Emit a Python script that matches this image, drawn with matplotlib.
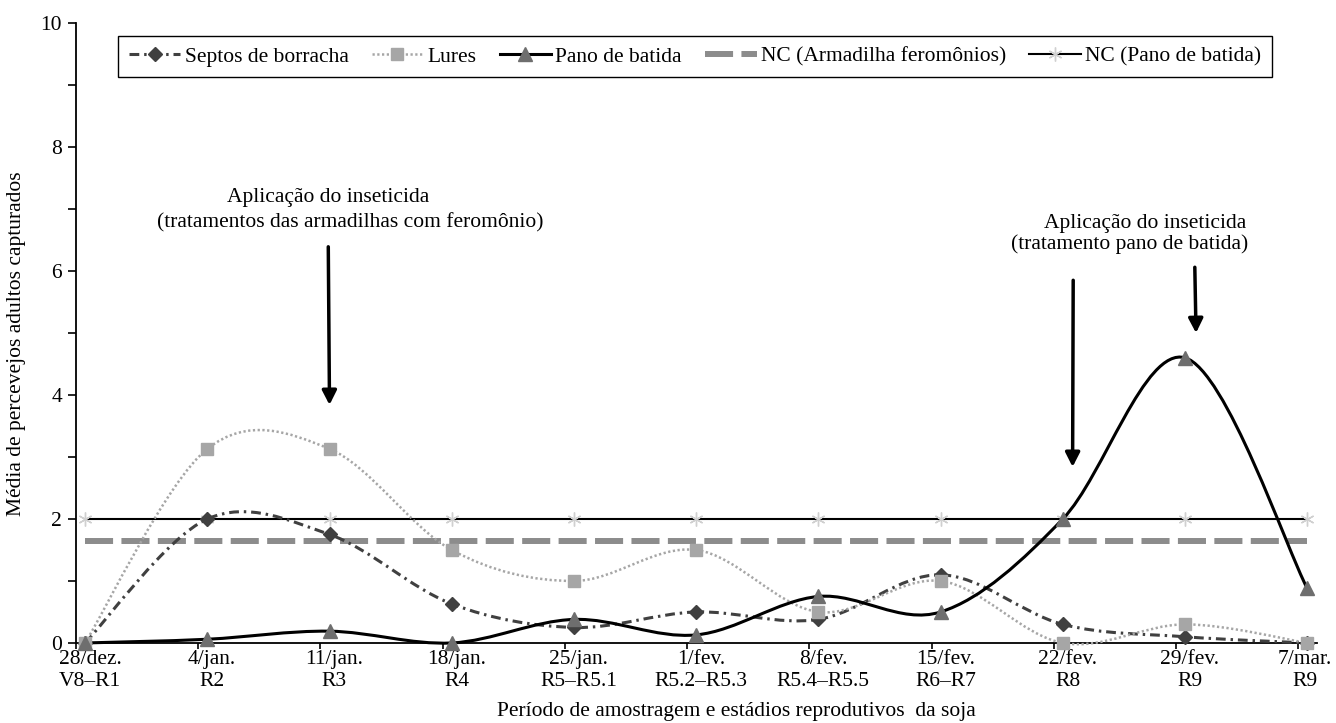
import numpy as np
import matplotlib
matplotlib.use("Agg")
import matplotlib.pyplot as plt
from matplotlib.path import Path
from matplotlib.patches import PathPatch
from matplotlib.lines import Line2D

plt.rcParams["font.family"] = "Liberation Serif"
plt.rcParams["font.size"] = 15.5

# sampling dates and soybean stages
dates = ["28/dez.", "4/jan.", "11/jan.", "18/jan.", "25/jan.", "1/fev.",
         "8/fev.", "15/fev.", "22/fev.", "29/fev.", "7/mar."]
stages = ["V8–R1", "R2", "R3", "R4", "R5–R5.1", "R5.2–R5.3",
          "R5.4–R5.5", "R6–R7", "R8", "R9", "R9"]

# mean number of adult stink bugs captured
septos = [0, 2.0, 1.75, 0.63, 0.25, 0.5, 0.38, 1.1, 0.3, 0.1, 0]
lures = [0, 3.13, 3.13, 1.5, 1.0, 1.5, 0.5, 1.0, 0, 0.3, 0]
pano = [0, 0.06, 0.19, 0, 0.38, 0.13, 0.75, 0.5, 2.0, 4.6, 0.88]
nc_armadilha = 1.65
nc_pano = 2.0


def smooth_path(x, y):
    # Excel-like smoothed line as cubic bezier segments through the points
    px = np.concatenate([[x[0]], x, [x[-1]]])
    py = np.concatenate([[y[0]], y, [y[-1]]])
    verts = [(x[0], y[0])]
    codes = [Path.MOVETO]
    for i in range(len(x) - 1):
        c1 = (px[i + 1] + (px[i + 2] - px[i]) / 6, py[i + 1] + (py[i + 2] - py[i]) / 6)
        c2 = (px[i + 2] - (px[i + 3] - px[i + 1]) / 6, py[i + 2] - (py[i + 3] - py[i + 1]) / 6)
        verts += [c1, c2, (x[i + 1], y[i + 1])]
        codes += [Path.CURVE4] * 3
    return Path(verts, codes)


x = np.arange(len(dates), dtype=float)

fig = plt.figure(figsize=(13.36, 7.23), dpi=100)
ax = fig.add_axes([0.0569, 0.1107, 0.9289, 0.8575])

# reference lines
ax.plot(x, np.full(len(x), nc_armadilha), color="#8c8c8c", lw=4.3,
        ls=(0, (4.7, 1.4)), zorder=2)
ax.plot(x, np.full(len(x), nc_pano), color="black", lw=1.5, zorder=2,
        marker=(6, 2, 0), ms=10, mec="#d0d0d0", mew=1.0)

# smoothed series
s_style = dict(color="#404040", lw=2.2, ls=(0, (3.2, 1.6, 0.8, 1.6)))
l_style = dict(color="#a6a6a6", lw=1.8, ls=(0, (0.9, 1.0)))
p_style = dict(color="black", lw=2.2, ls="-")

for vals, st, z in [(septos, s_style, 3), (lures, l_style, 3), (pano, p_style, 4)]:
    patch = PathPatch(smooth_path(x, np.asarray(vals, float)), fill=False,
                      edgecolor=st["color"], lw=st["lw"], ls=st["ls"], zorder=z,
                      capstyle="butt")
    patch.set_clip_on(False)
    ax.add_patch(patch)

ax.plot(x, septos, ls="none", marker="D", ms=7, color="#404040", zorder=5, clip_on=False)
ax.plot(x, lures, ls="none", marker="s", ms=9, color="#a6a6a6", zorder=5, clip_on=False)
ax.plot(x, pano, ls="none", marker="^", ms=10, color="#6e6e6e", zorder=6, clip_on=False)

ax.set_xlim(-0.074, 10.08)
ax.set_ylim(0, 10)

label_pos = x + 0.04
label_pos[-1] = x[-1] - 0.02
ax.set_xticks(label_pos, labels=[f"{d}\n{s}" for d, s in zip(dates, stages)])
ax.set_xticks(np.arange(11) - 0.074, minor=True)
ax.tick_params(axis="x", which="major", length=0, pad=5)
ax.tick_params(axis="x", which="minor", length=4, width=1.2, direction="out")
ax.set_yticks(range(0, 11, 2))
ax.set_yticks(range(1, 10, 2), minor=True)
ax.tick_params(axis="y", which="both", length=5.5, width=1.2, pad=4.5, direction="out")

for side in ["top", "right"]:
    ax.spines[side].set_visible(False)
for side in ["left", "bottom"]:
    ax.spines[side].set_linewidth(1.3)

fig.text(736 / 1336, 0.016, "Período de amostragem e estádios reprodutivos  da soja",
         ha="center", va="center")
fig.text(17 / 1336, 0.524, "Média de percevejos adultos capturados",
         rotation=90, ha="center", va="center")

# insecticide application notes
ax.text(1.99, 7.18, "Aplicação do inseticida", ha="center", va="center")
ax.text(2.17, 6.77, "(tratamentos das armadilhas com feromônio)", ha="center", va="center")
ax.text(8.67, 6.77, "Aplicação do inseticida", ha="center", va="center")
ax.text(8.55, 6.44, "(tratamento pano de batida)", ha="center", va="center")

arrow = dict(arrowstyle="-|>,head_length=0.55,head_width=0.28", color="black",
             lw=2.5, shrinkA=0, shrinkB=0)
ax.annotate("", xy=(2.0, 3.84), xytext=(1.99, 6.39), arrowprops=arrow)
ax.annotate("", xy=(8.08, 2.84), xytext=(8.085, 5.85), arrowprops=arrow)
ax.annotate("", xy=(9.09, 5.0), xytext=(9.08, 6.06), arrowprops=arrow)

handles = [
    Line2D([], [], marker="D", ms=7, mfc="#404040", mec="#404040", **s_style),
    Line2D([], [], marker="s", ms=9, mfc="#a6a6a6", mec="#a6a6a6", **l_style),
    Line2D([], [], marker="^", ms=10, mfc="#6e6e6e", mec="#6e6e6e", **p_style),
    Line2D([], [], color="#8c8c8c", lw=4.3, ls=(0, (4.7, 1.4))),
    Line2D([], [], color="black", lw=1.5, marker=(6, 2, 0), ms=10, mec="#d0d0d0"),
]
labels = ["Septos de borracha", "Lures", "Pano de batida",
          "NC (Armadilha feromônios)", "NC (Pano de batida)"]
leg = fig.legend(handles, labels, loc="center", ncol=5, mode="expand",
                 bbox_to_anchor=(118 / 1336, 1 - 79 / 723, 1154 / 1336, 45 / 723),
                 handlelength=2.4, handletextpad=0.2, borderpad=0.5,
                 borderaxespad=0, columnspacing=1.0,
                 fancybox=False, framealpha=1, edgecolor="black")
leg.get_frame().set_linewidth(1.0)

fig.savefig("out.png", dpi=100)
